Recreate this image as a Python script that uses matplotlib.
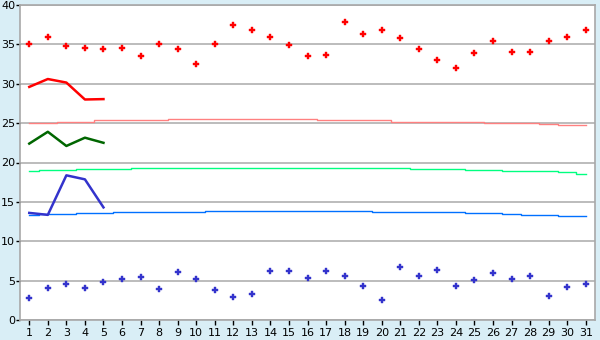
import matplotlib
matplotlib.use("Agg")
import matplotlib.pyplot as plt

days = list(range(1, 32))

max_pts = [35.0, 36.0, 34.75, 34.5, 34.4, 34.5, 33.5, 35.0, 34.4, 32.5,
           35.0, 37.5, 36.8, 35.9, 34.9, 33.5, 33.6, 37.8, 36.3, 36.8,
           35.8, 34.4, 33.0, 31.95, 33.9, 35.4, 34.0, 34.0, 35.4, 35.9, 36.8]
min_pts = [2.75, 4.02, 4.53, 4.02, 4.78, 5.17, 5.46, 3.9, 6.05, 5.17,
           3.77, 2.88, 3.26, 6.18, 6.18, 5.29, 6.18, 5.54, 4.28, 2.5,
           6.69, 5.54, 6.31, 4.28, 5.04, 5.93, 5.17, 5.54, 3.01, 4.15, 4.53]

recent_days = [1, 2, 3, 4, 5]
red_line = [29.6, 30.6, 30.15, 28.0, 28.05]
green_line = [22.4, 23.9, 22.1, 23.15, 22.5]
blue_line = [13.6, 13.35, 18.37, 17.86, 14.3]

pink_norm = [25.06, 25.06, 25.2, 25.2, 25.35, 25.35, 25.35, 25.35, 25.48, 25.48,
             25.48, 25.48, 25.48, 25.48, 25.48, 25.48, 25.35, 25.35, 25.35, 25.35,
             25.2, 25.2, 25.2, 25.1, 25.1, 24.97, 24.97, 24.97, 24.83, 24.7, 24.7]
green_norm = [18.88, 19.0, 19.0, 19.13, 19.13, 19.13, 19.26, 19.26, 19.26, 19.26,
              19.26, 19.26, 19.26, 19.26, 19.26, 19.26, 19.26, 19.26, 19.26, 19.26,
              19.26, 19.13, 19.13, 19.13, 19.0, 19.0, 18.88, 18.88, 18.88, 18.75, 18.6]
blue_norm = [13.29, 13.42, 13.42, 13.55, 13.55, 13.67, 13.67, 13.67, 13.67, 13.67,
             13.8, 13.8, 13.8, 13.8, 13.8, 13.8, 13.8, 13.8, 13.8, 13.67,
             13.67, 13.67, 13.67, 13.67, 13.55, 13.55, 13.42, 13.29, 13.29, 13.16, 13.16]

yticks = list(range(0, 41, 5))

bg = "#D9EEF6"
fig = plt.figure(figsize=(6, 3.4), dpi=100, facecolor=bg)
ax = fig.add_axes([20/600, 1-320/340, 575/600, 315/340])
ax.set_facecolor("white")

ax.set_xlim(0.5, 31.5)
ax.set_ylim(0, 40)
ax.set_yticks(yticks)
ax.set_xticks(days)
ax.grid(axis="y", color="#B0B0B0", linewidth=1.2)
ax.set_axisbelow(True)

ax.plot(days, pink_norm, color="#FF8080", lw=1.0, drawstyle="steps-mid")
ax.plot(days, green_norm, color="#00FF80", lw=1.0, drawstyle="steps-mid")
ax.plot(days, blue_norm, color="#0070FF", lw=1.0, drawstyle="steps-mid")

ax.plot(recent_days, red_line, color="#FF0000", lw=1.8)
ax.plot(recent_days, green_line, color="#006600", lw=1.8)
ax.plot(recent_days, blue_line, color="#3333CC", lw=1.8)

ax.plot(days, max_pts, ls="none", marker="P", ms=3.8, color="#FF0000", mec="#FF0000", mew=0.3)
ax.plot(days, min_pts, ls="none", marker="P", ms=3.8, color="#3333CC", mec="#3333CC", mew=0.3)

for s in ["top", "right", "left", "bottom"]:
    ax.spines[s].set_color("#A8A8A8")
    ax.spines[s].set_linewidth(1.2)

ax.tick_params(axis="y", direction="out", length=3, width=1, color="#000000",
               labelsize=8, labelcolor="#000000", pad=0.5)
ax.tick_params(axis="x", direction="out", length=3.5, width=1, color="#000000",
               labelsize=8, labelcolor="#000000", pad=2)

fig.savefig("out.png", dpi=100, facecolor=bg)
